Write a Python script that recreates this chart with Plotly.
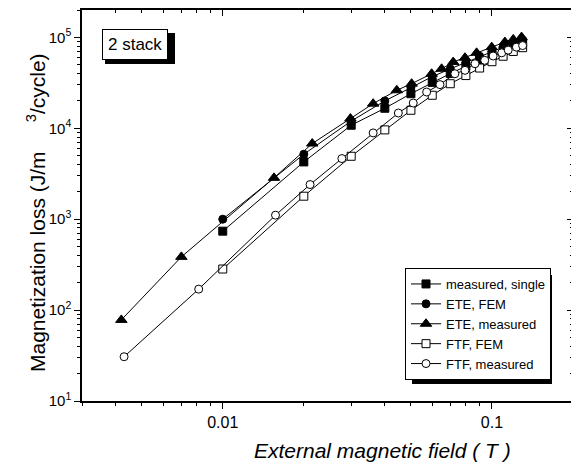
import plotly.graph_objects as go
import numpy as np

# ---- data ----
single_x = [0.01, 0.02, 0.03, 0.04, 0.05, 0.06, 0.07, 0.08, 0.09, 0.10, 0.11, 0.12, 0.13]
single_y = [738, 4266, 10800, 16600, 24000, 32000, 40000, 48000, 56000, 64000, 72000, 80000, 88000]

ete_fem_x = [0.01, 0.02, 0.03, 0.04, 0.05, 0.06, 0.07, 0.08, 0.09, 0.10, 0.11, 0.12, 0.13]
ete_fem_y = [1000, 5180, 12000, 20000, 28000, 37000, 45000, 53000, 62000, 70000, 78000, 86000, 93000]

ete_meas_x = [0.0042, 0.00702, 0.0155, 0.0215, 0.0298, 0.0362, 0.0443, 0.0503, 0.0597, 0.065,
              0.0718, 0.0794, 0.0877, 0.0998, 0.1117, 0.12, 0.1288]
ete_meas_y = [78, 385, 2850, 6790, 12790, 18660, 26180, 30940, 39800, 45100,
              53500, 59700, 67600, 78100, 88800, 95000, 100700]

ftf_fem_x = [0.01, 0.02, 0.03, 0.04, 0.05, 0.06, 0.07, 0.08, 0.09, 0.10, 0.11, 0.12, 0.13]
ftf_fem_y = [283, 1790, 4920, 9600, 15780, 23070, 30900, 38000, 46000, 54000, 62000, 70000, 77000]

ftf_meas_x = [0.0043, 0.00814, 0.0157, 0.0211, 0.0277, 0.0362, 0.0449, 0.051, 0.0572, 0.0641,
              0.0728, 0.0794, 0.0865, 0.094, 0.101, 0.1087, 0.1149, 0.1233, 0.130]
ftf_meas_y = [30.7, 170, 1107, 2404, 4645, 8890, 14720, 18960, 25060, 30200,
              39800, 43400, 51300, 55900, 62400, 67600, 72400, 78100, 81200]

y_ticks = [10, 100, 1000, 10000, 100000]
y_ticktext = ["10<sup>1</sup>", "10<sup>2</sup>", "10<sup>3</sup>", "10<sup>4</sup>", "10<sup>5</sup>"]
x_ticks = [0.01, 0.1]
x_ticktext = ["0.01", "0.1"]

FONT = "Liberation Sans, Arial, sans-serif"

x_minor = [m * 10.0 ** e for e in (-3, -2, -1) for m in range(2, 10) if 0.003 <= m * 10.0 ** e <= 0.2]
y_minor = [m * 10.0 ** e for e in (1, 2, 3, 4, 5) for m in range(2, 10) if m * 10.0 ** e <= 2e5]

fig = go.Figure()

def add(x, y, name, symbol, fill):
    fig.add_trace(go.Scatter(
        x=x, y=y, name=name, mode="lines+markers",
        line=dict(color="black", width=1),
        marker=dict(symbol=symbol, size=8 if "triangle" not in symbol else 10,
                    color="black" if fill else "white",
                    line=dict(color="black", width=1)),
    ))

add(single_x, single_y, "measured, single", "square", True)
add(ete_fem_x, ete_fem_y, "ETE, FEM", "circle", True)
add(ete_meas_x, ete_meas_y, "ETE, measured", "triangle-up", True)
add(ftf_fem_x, ftf_fem_y, "FTF, FEM", "square", False)
add(ftf_meas_x, ftf_meas_y, "FTF, measured", "circle", False)

# invisible trace to carry mirrored (inside) axes
fig.add_trace(go.Scatter(x=[0.01], y=[100], xaxis="x2", yaxis="y2", mode="markers",
                         marker=dict(opacity=0), showlegend=False, hoverinfo="skip"))

xr = [np.log10(0.003), np.log10(0.2)]
yr = [1, np.log10(2e5)]

PW, PH = 491, 391  # plot area size in px
X0, Y0 = 82, 401   # window px of plot-area bottom-left corner

def px(x):
    return (x - X0) / PW

def py(y):
    return (Y0 - y) / PH

fig.update_layout(
    width=571, height=460,
    margin=dict(l=74, r=6, t=2, b=67, autoexpand=False),
    paper_bgcolor="white", plot_bgcolor="white",
    font=dict(family=FONT, color="black", size=14),
    showlegend=True,
    xaxis=dict(type="log", range=xr, showgrid=False, zeroline=False,
               showline=True, linecolor="black", linewidth=1.5, mirror=True,
               ticks="outside", ticklen=6, tickwidth=1, tickcolor="black",
               tickvals=x_ticks, ticktext=x_ticktext,
               tickfont=dict(size=16, family=FONT),
               minor=dict(tickvals=x_minor, ticks="outside", ticklen=3, tickcolor="black", showgrid=False)),
    yaxis=dict(type="log", range=yr, showgrid=False, zeroline=False,
               showline=True, linecolor="black", linewidth=1.5, mirror=True,
               ticks="outside", ticklen=6, tickwidth=1, tickcolor="black",
               tickvals=y_ticks, ticktext=y_ticktext,
               tickfont=dict(size=15, family=FONT),
               minor=dict(tickvals=y_minor, ticks="outside", ticklen=3, tickcolor="black", showgrid=False)),
    xaxis2=dict(type="log", range=xr, overlaying="x", side="top", anchor="y",
                showgrid=False, zeroline=False, showline=True, linecolor="black", linewidth=1.5,
                ticks="inside", ticklen=6, tickcolor="black", tickvals=x_ticks, showticklabels=False,
                minor=dict(tickvals=x_minor, ticks="inside", ticklen=3, tickcolor="black", showgrid=False)),
    yaxis2=dict(type="log", range=yr, overlaying="y", side="right", anchor="x",
                showgrid=False, zeroline=False, showline=True, linecolor="black", linewidth=1.5,
                ticks="inside", ticklen=6, tickcolor="black", tickvals=y_ticks, showticklabels=False,
                minor=dict(tickvals=y_minor, ticks="inside", ticklen=3, tickcolor="black", showgrid=False)),
    legend=dict(x=px(405), y=py(268), xanchor="left", yanchor="top",
                bgcolor="white", bordercolor="black", borderwidth=1,
                font=dict(size=13, family=FONT), tracegroupgap=0,
                itemwidth=30),
)

# axis titles
fig.add_annotation(xref="paper", yref="paper", x=px(382), y=py(450),
                   xanchor="center", yanchor="middle", showarrow=False,
                   text="<i>External magnetic field ( T )</i>", font=dict(size=21, family=FONT))
fig.add_annotation(xref="paper", yref="paper", x=px(36), y=py(213),
                   xanchor="center", yanchor="middle", showarrow=False, textangle=-90,
                   text="Magnetization loss (J/m     <sup>3</sup>/cycle)", font=dict(size=21, family=FONT))

# legend shadow (offset down-right behind the legend box)
fig.add_shape(type="rect", xref="paper", yref="paper", layer="above",
              x0=px(412), x1=px(552),
              y0=py(384), y1=py(275),
              fillcolor="black", line=dict(width=0))

# "2 stack" label with shadow
fig.add_shape(type="rect", xref="paper", yref="paper", layer="above",
              x0=px(105), x1=px(175),
              y0=py(64), y1=py(33),
              fillcolor="black", line=dict(width=0))
fig.add_annotation(xref="paper", yref="paper", x=px(135), y=py(44),
                   xanchor="center", yanchor="middle",
                   text="2 stack", showarrow=False, font=dict(size=17, family=FONT),
                   bgcolor="white", bordercolor="black", borderwidth=1, borderpad=5)

fig.write_html("out.html")
